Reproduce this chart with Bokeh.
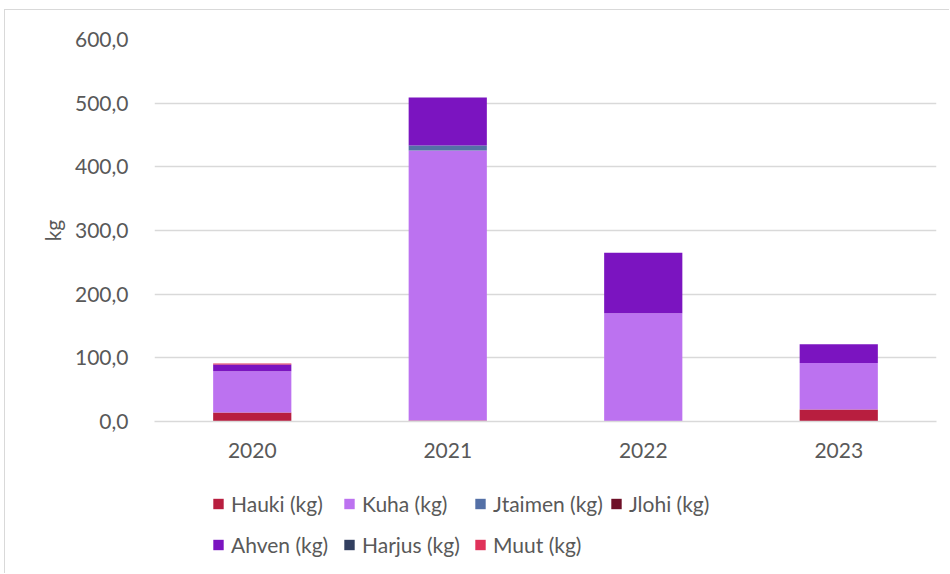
from bokeh.plotting import figure
from bokeh.layouts import column
from bokeh.models import Legend, LegendItem, CustomJSTickFormatter, FactorRange, Range1d, ColumnDataSource
from bokeh.embed import file_html
from bokeh.resources import INLINE

years = ["2020", "2021", "2022", "2023"]
series = ["Hauki (kg)", "Kuha (kg)", "Jtaimen (kg)", "Jlohi (kg)", "Ahven (kg)", "Harjus (kg)", "Muut (kg)"]
hauki = [14, 1.5, 0, 19]
kuha = [65, 424, 170, 73]
jtaimen = [0, 8, 0, 0]
jlohi = [0, 0, 0, 0]
ahven = [10.5, 75.5, 95, 29.5]
harjus = [0, 0, 0, 0]
muut = [1.5, 0, 0, 0]
colors = ["#B81E3F", "#BC72F0", "#5470A6", "#6E1028", "#7B14C0", "#323F60", "#E0325A"]
y_ticks = [0, 100, 200, 300, 400, 500, 600]

FONT = "Lato"
TXT = "#595959"
GRID = "#d9d9d9"

data = {"year": years}
for name, vals in zip(series, [hauki, kuha, jtaimen, jlohi, ahven, harjus, muut]):
    data[name] = vals
src = ColumnDataSource(data)

p = figure(frame_width=782, frame_height=382, x_range=FactorRange(*years), y_range=Range1d(0, 600),
           output_backend="svg", toolbar_location=None,
           min_border_left=149, min_border_right=13, min_border_top=29, min_border_bottom=45)
p.outline_line_color = None
p.x_range.range_padding = 0

p.vbar_stack(series, x="year", width=0.4, source=src, color=colors, line_color=None)

p.xgrid.grid_line_color = None
p.ygrid.grid_line_color = GRID
p.ygrid.grid_line_width = 1.5
p.yaxis.ticker = y_ticks
p.yaxis.formatter = CustomJSTickFormatter(code="return tick.toFixed(1).replace('.', ',');")

for ax in [p.xaxis[0], p.yaxis[0]]:
    ax.major_tick_line_color = None
    ax.minor_tick_line_color = None
    ax.major_label_text_font = FONT
    ax.major_label_text_font_size = "21px"
    ax.major_label_text_color = TXT
p.yaxis.axis_line_color = None
p.xaxis.axis_line_color = GRID
p.xaxis.axis_line_width = 1.5
p.xaxis.major_label_standoff = 15
p.yaxis.major_label_standoff = 20
p.yaxis.axis_label = "kg"
p.yaxis.axis_label_text_font = FONT
p.yaxis.axis_label_text_font_size = "21px"
p.yaxis.axis_label_text_font_style = "normal"
p.yaxis.axis_label_text_color = TXT
p.yaxis.axis_label_standoff = 7

# legend strip (separate figure so that the legend is not clipped)
p2 = figure(width=944, height=107, x_axis_type=None, y_axis_type=None,
            output_backend="svg", toolbar_location=None, min_border=0)
p2.outline_line_color = None
p2.grid.grid_line_color = None
items = []
for name, c in zip(series, colors):
    # zero-size proxy point: only its legend swatch is visible
    r = p2.scatter(x=[0], y=[0], size=0, marker="square", fill_color=c, line_color=None)
    items.append(LegendItem(label=name, renderers=[r]))

legend = Legend(items=items, location=(51, 8), orientation="horizontal", ncols=4,
                glyph_width=26, glyph_height=41, label_height=41, label_width=105,
                label_standoff=0, spacing=0, padding=0, margin=0,
                border_line_color=None, background_fill_color=None,
                label_text_font=FONT, label_text_font_size="21px", label_text_color=TXT)
p2.add_layout(legend, "center")

layout = column(p, p2, spacing=0)
layout.styles = {"border-top": "1px solid #d9d9d9", "border-left": "1px solid #d9d9d9",
                 "margin-left": "4px", "margin-top": "9px"}

open("out.html", "w").write(file_html(layout, INLINE))
